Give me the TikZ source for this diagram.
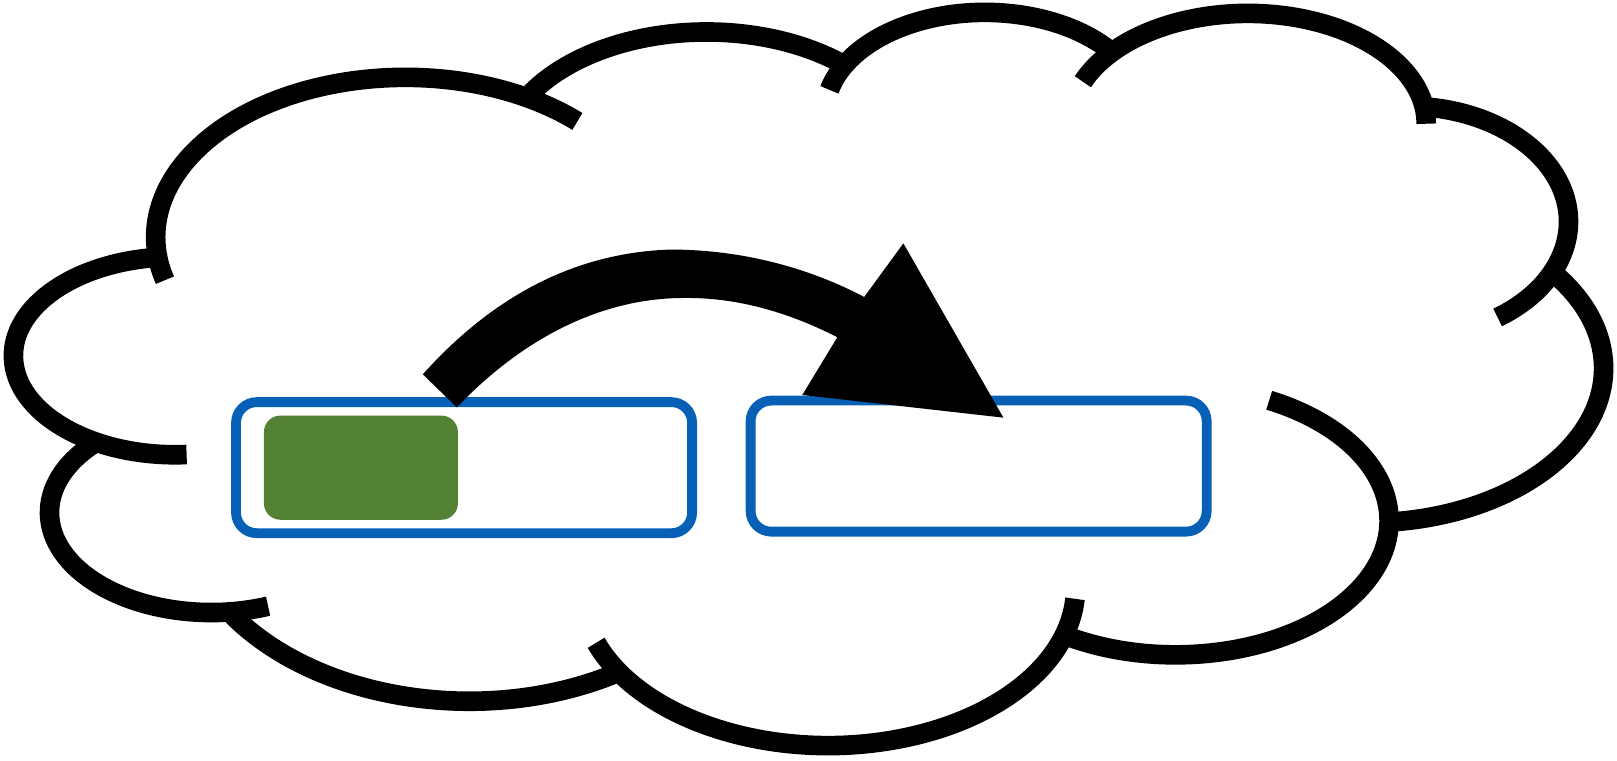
\documentclass[tikz,border=0pt]{standalone}
\usepackage{tikz}
\usetikzlibrary{shapes}
\definecolor{slotblue}{HTML}{0560B6}
\definecolor{itemgreen}{HTML}{548235}

\begin{document}
\begin{tikzpicture}[x=0.01cm,y=-0.01cm]
  \tikzstyle{cloudline}=[draw=black,line width=0.19cm]
  \tikzstyle{slotbox}=[rectangle,draw=slotblue,line width=0.095cm,rounded corners=0.2cm,minimum width=4.42cm,minimum height=1.27cm]
  \tikzstyle{itembox}=[rectangle,fill=itemgreen,rounded corners=0.16cm,minimum width=1.88cm,minimum height=1.01cm]
\useasboundingbox (0,0) rectangle (1568,737);
% cloud, one arc per lobe
\foreach \cx/\cy/\rx/\ry/\ta/\tb in {
	170/345/157/96/86/261.6,
	393/230/242/155/164.4/313.6,
	685/156/200/125/211.8/310,
	955/110/155/98/193.5/321,
	1210/120/173/107/202.4/360,
	1365/215/156/112/56/-82.6,
	1325/357/230/150/83.7/-36.5,
	1140/505/207/130/122/-64,
	803/570/240/153/159.6/4,
	455/485/280/195/145/60,
	205/497/157/97/224/69.5}
	\draw[cloudline] ({\cx+\rx*cos(\ta)},{\cy+\ry*sin(\ta)}) arc[start angle=\ta,end angle=\tb,x radius=\rx,y radius=\ry];
\node[slotbox] (slotA) at (450,453.5) {};
\node[slotbox] (slotB) at (949,452) {};
\node[itembox] (item) at (350,453.5) {};
% move arrow
\fill[black] (410,363) .. controls (480,285) and (560,245) .. (650,242)
	.. controls (720,242) and (785,260) .. (838,288)
	-- (876,236) -- (973,405) -- (778,383) -- (812,327)
	.. controls (755,298) and (705,288) .. (660,289)
	.. controls (580,290) and (505,330) .. (443,395) -- cycle;
\end{tikzpicture}
\end{document}
